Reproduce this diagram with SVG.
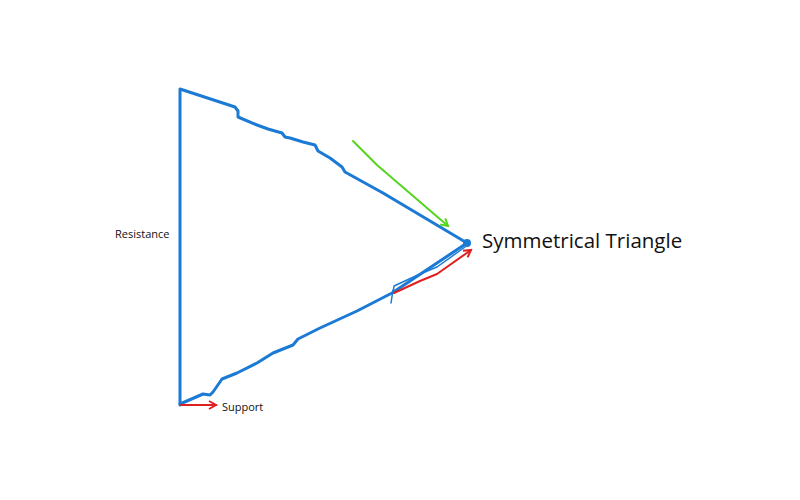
<svg xmlns="http://www.w3.org/2000/svg" width="800" height="500" viewBox="0 0 800 500">
<style>
.tri{fill:none;stroke:#1a7ad4;stroke-width:3;stroke-linejoin:round;stroke-linecap:round}
.thin{fill:none;stroke:#1a7ad4;stroke-width:1.5;stroke-linejoin:round;stroke-linecap:round}
.red{fill:none;stroke:#e02020;stroke-width:2;stroke-linecap:round;stroke-linejoin:round}
.green{fill:none;stroke:#55d420;stroke-width:2;stroke-linecap:round;stroke-linejoin:round}
text{font-family:"Open Sans","Noto Sans",sans-serif;fill:#111}
</style>
<defs>
<marker id="ar" markerWidth="10" markerHeight="10" refX="8" refY="5" orient="auto" markerUnits="userSpaceOnUse">
<path d="M1,1 L8,5 L1,9" fill="none" stroke="#e02020" stroke-width="2"/>
</marker>
<marker id="ag" markerWidth="10" markerHeight="10" refX="8" refY="5" orient="auto" markerUnits="userSpaceOnUse">
<path d="M1,1 L8,5 L1,9" fill="none" stroke="#55d420" stroke-width="2"/>
</marker>
</defs>
<rect width="800" height="500" fill="#fff"/>
<g id="triangle">
<path class="tri" d="M180,405 L180,89 L235,107 L238,111 L238,117 L257,125 L268,129 L282,133 L285,137 L290,138 L303,142 L315,145 L318,151 L330,158 L342,167 L345,172 L383,193 L467,243"/>
<path class="tri" d="M180,404 L203,394 L210,395 L213,392 L222,379 L237,373 L257,363 L273,353 L293,345 L298,339 L320,328 L357,311 L392,293 L467,243"/>
<circle cx="467" cy="243" r="4" fill="#1a7ad4"/>
<path class="thin" d="M393,290 L391,303"/>
<path class="thin" d="M393,293 L394,286 L420,274 L437,267 L465,247"/>
</g>
<g id="connectors">
<path class="green" d="M353,141 L377,165 L448,226" marker-end="url(#ag)"/>
<path class="red" d="M394,293 L420,281 L437,274 L471,250" marker-end="url(#ar)"/>
<path class="red" d="M181,405 L216,405" marker-end="url(#ar)"/>
</g>
<g id="labels">
<text x="482" y="248" font-size="20.5" font-weight="500">Symmetrical Triangle</text>
<text x="115" y="238" font-size="11">Resistance</text>
<text x="222" y="411" font-size="11">Support</text>
</g>
</svg>
